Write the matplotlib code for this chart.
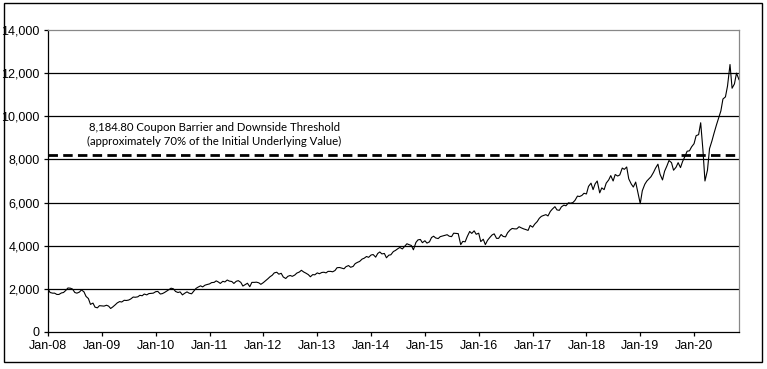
import numpy as np
import pandas as pd
import matplotlib
matplotlib.use('Agg')
import matplotlib.pyplot as plt
from matplotlib.patches import Rectangle

# Semi-monthly index levels (1st and 15th of each month)
levels = {
    2008: [2000, 1830, 1800, 1800, 1740, 1740, 1810, 1830, 1930, 2040, 2030, 1990,
           1830, 1800, 1850, 1950, 1860, 1650, 1550, 1280, 1340, 1150, 1120, 1220],
    2009: [1210, 1200, 1240, 1200, 1090, 1160, 1260, 1350, 1410, 1390, 1470, 1460,
           1480, 1530, 1620, 1610, 1630, 1700, 1680, 1760, 1720, 1780, 1790, 1800],
    2010: [1870, 1880, 1760, 1780, 1830, 1890, 1970, 2030, 2000, 1880, 1830, 1860,
           1720, 1790, 1860, 1800, 1770, 1890, 2020, 2080, 2140, 2090, 2170, 2200],
    2011: [2230, 2290, 2300, 2370, 2320, 2250, 2350, 2320, 2410, 2360, 2340, 2250,
           2350, 2380, 2300, 2130, 2200, 2260, 2100, 2300, 2300, 2310, 2280, 2210],
    2012: [2290, 2370, 2470, 2560, 2630, 2740, 2770, 2680, 2720, 2550, 2480, 2580,
           2620, 2580, 2640, 2730, 2780, 2860, 2780, 2730, 2660, 2560, 2660, 2650],
    2013: [2740, 2700, 2760, 2770, 2740, 2810, 2810, 2790, 2850, 2980, 2990, 2960,
           2930, 3030, 3080, 3000, 3040, 3170, 3230, 3270, 3380, 3420, 3500, 3460],
    2014: [3570, 3590, 3470, 3640, 3710, 3620, 3640, 3440, 3560, 3580, 3730, 3780,
           3860, 3920, 3850, 3960, 4090, 4050, 4010, 3810, 4150, 4270, 4290, 4140],
    2015: [4230, 4120, 4180, 4380, 4440, 4360, 4330, 4420, 4450, 4480, 4510, 4440,
           4420, 4580, 4570, 4560, 4050, 4200, 4180, 4420, 4660, 4570, 4690, 4530],
    2016: [4580, 4190, 4300, 4050, 4250, 4370, 4500, 4550, 4340, 4340, 4520, 4430,
           4410, 4600, 4730, 4800, 4780, 4780, 4880, 4830, 4780, 4750, 4710, 4940],
    2017: [4860, 5000, 5120, 5270, 5360, 5400, 5440, 5380, 5590, 5700, 5810, 5660,
           5640, 5800, 5880, 5850, 5990, 5970, 6000, 6100, 6300, 6280, 6330, 6430],
    2018: [6400, 6750, 6900, 6600, 6870, 7000, 6450, 6680, 6600, 6900, 7050, 7250,
           7000, 7300, 7230, 7280, 7600, 7540, 7650, 7100, 6860, 6720, 6950, 6500],
    2019: [5950, 6550, 6850, 7000, 7100, 7200, 7400, 7600, 7780, 7320, 7050, 7450,
           7700, 7950, 7850, 7500, 7640, 7850, 7620, 7900, 8150, 8380, 8400, 8580],
    2020: [8730, 9100, 9150, 9700, 8460, 7000, 7500, 8500, 8850, 9200, 9600, 9900,
           10250, 10800, 10900, 11400, 12400, 11300, 11500, 12000, 11700],
}

barrier = 8184.80
barrier_label = ('8,184.80 Coupon Barrier and Downside Threshold\n'
                 '(approximately 70% of the Initial Underlying Value)')
year_ticks = list(range(2008, 2021))

values = np.concatenate([levels[y] for y in sorted(levels)])
dates = pd.date_range('2008-01-01', periods=len(values), freq='SMS')

fig = plt.figure(figsize=(7.67, 3.69), dpi=100)
ax = fig.add_axes([0.0626, 0.1003, 0.9009, 0.8184])

# Outer frame around the whole figure
fig.patches.append(Rectangle((4 / 767, 1 - 362 / 369), 758 / 767, 359 / 369,
                             transform=fig.transFigure, fill=False,
                             edgecolor='black', linewidth=1.0))

for yv in range(2000, 14000, 2000):
    ax.axhline(yv, color='black', linewidth=0.9, zorder=1)

ax.plot(dates, values, color='black', linewidth=0.8, zorder=3)
ax.axhline(barrier, color='black', linewidth=2.0, linestyle=(0, (3.4, 1.9)), zorder=2)

ax.text(pd.Timestamp('2011-02-01'), 9150, barrier_label, ha='center', va='center',
        fontsize=8.2, family='Lato', linespacing=1.35)

ax.set_ylim(0, 14000)
ax.set_xlim(pd.Timestamp('2008-01-01'), pd.Timestamp('2020-11-01'))
ax.set_yticks(range(0, 14001, 2000))
ax.set_yticklabels([f'{v:,}' for v in range(0, 14001, 2000)])
ax.set_xticks([pd.Timestamp(f'{y}-01-01') for y in year_ticks])
ax.set_xticklabels([f'Jan-{y % 100:02d}' for y in year_ticks])

for lab in ax.get_xticklabels() + ax.get_yticklabels():
    lab.set_family('Liberation Sans')
    lab.set_fontsize(9)

ax.tick_params(axis='both', direction='out', length=3, width=0.9, color='black', pad=3)
ax.spines['left'].set_color('black')
ax.spines['bottom'].set_color('black')
ax.spines['top'].set_color('#888888')
ax.spines['right'].set_color('#888888')
for s in ax.spines.values():
    s.set_linewidth(0.9)

fig.savefig('out.png', dpi=100, facecolor='white')
plt.close(fig)
